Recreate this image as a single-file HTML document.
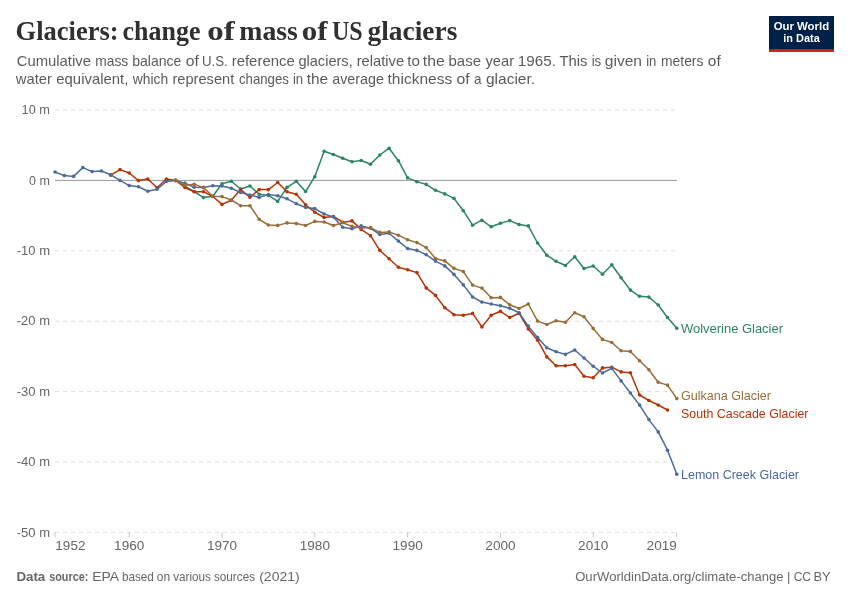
<!DOCTYPE html>
<html lang="en">
<head>
<meta charset="utf-8">
<title>Glaciers: change of mass of US glaciers</title>
<style>
html,body{margin:0;padding:0;background:#fff;}
body{width:850px;height:600px;overflow:hidden;}
svg{display:block;}
text{font-family:"Liberation Sans",sans-serif;}
.title{font-family:"Liberation Serif",serif;font-weight:bold;fill:#303030;}
.sub{fill:#5b5b5b;}
.ax{fill:#666666;}
.foot{fill:#676767;}
</style>
</head>
<body>
<svg width="850" height="600" viewBox="0 0 850 600">
<rect x="0" y="0" width="850" height="600" fill="#ffffff"/>
<text class="title" y="40.2" font-size="27.5"><tspan x="15.6" textLength="103" lengthAdjust="spacingAndGlyphs">Glaciers:</tspan> <tspan x="122.6" textLength="77.8" lengthAdjust="spacingAndGlyphs">change</tspan> <tspan x="207.3" textLength="27.4" lengthAdjust="spacingAndGlyphs">of</tspan> <tspan x="239.3" textLength="58.5" lengthAdjust="spacingAndGlyphs">mass</tspan> <tspan x="301.8" textLength="25.8" lengthAdjust="spacingAndGlyphs">of</tspan> <tspan x="331.9" textLength="30.7" lengthAdjust="spacingAndGlyphs">US</tspan> <tspan x="367.5" textLength="89.8" lengthAdjust="spacingAndGlyphs">glaciers</tspan> </text>
<text class="sub" y="66" font-size="14.6"><tspan x="16.7" textLength="74.3" lengthAdjust="spacingAndGlyphs">Cumulative</tspan> <tspan x="95.2" textLength="33.1" lengthAdjust="spacingAndGlyphs">mass</tspan> <tspan x="132.2" textLength="49.1" lengthAdjust="spacingAndGlyphs">balance</tspan> <tspan x="185.8" textLength="13.1" lengthAdjust="spacingAndGlyphs">of</tspan> <tspan x="201.9" textLength="25.8" lengthAdjust="spacingAndGlyphs">U.S.</tspan> <tspan x="231.7" textLength="63.1" lengthAdjust="spacingAndGlyphs">reference</tspan> <tspan x="298.4" textLength="54.3" lengthAdjust="spacingAndGlyphs">glaciers,</tspan> <tspan x="356.7" textLength="47.5" lengthAdjust="spacingAndGlyphs">relative</tspan> <tspan x="407.2" textLength="12.6" lengthAdjust="spacingAndGlyphs">to</tspan> <tspan x="422.8" textLength="21.9" lengthAdjust="spacingAndGlyphs">the</tspan> <tspan x="448.5" textLength="32.5" lengthAdjust="spacingAndGlyphs">base</tspan> <tspan x="485.4" textLength="28.7" lengthAdjust="spacingAndGlyphs">year</tspan> <tspan x="517.8" textLength="38.2" lengthAdjust="spacingAndGlyphs">1965.</tspan> <tspan x="559.4" textLength="28.0" lengthAdjust="spacingAndGlyphs">This</tspan> <tspan x="591.7" textLength="9.5" lengthAdjust="spacingAndGlyphs">is</tspan> <tspan x="604.8" textLength="37.2" lengthAdjust="spacingAndGlyphs">given</tspan> <tspan x="646.2" textLength="10.2" lengthAdjust="spacingAndGlyphs">in</tspan> <tspan x="661.1" textLength="42.3" lengthAdjust="spacingAndGlyphs">meters</tspan> <tspan x="707.8" textLength="12.9" lengthAdjust="spacingAndGlyphs">of</tspan></text>
<text class="sub" y="84" font-size="14.6"><tspan x="15.8" textLength="36.1" lengthAdjust="spacingAndGlyphs">water</tspan> <tspan x="56.3" textLength="72.0" lengthAdjust="spacingAndGlyphs">equivalent,</tspan> <tspan x="132.8" textLength="35.3" lengthAdjust="spacingAndGlyphs">which</tspan> <tspan x="172.5" textLength="61.7" lengthAdjust="spacingAndGlyphs">represent</tspan> <tspan x="239.0" textLength="49.9" lengthAdjust="spacingAndGlyphs">changes</tspan> <tspan x="292.9" textLength="10.2" lengthAdjust="spacingAndGlyphs">in</tspan> <tspan x="306.7" textLength="21.4" lengthAdjust="spacingAndGlyphs">the</tspan> <tspan x="332.2" textLength="51.7" lengthAdjust="spacingAndGlyphs">average</tspan> <tspan x="387.5" textLength="64.7" lengthAdjust="spacingAndGlyphs">thickness</tspan> <tspan x="456.5" textLength="13.2" lengthAdjust="spacingAndGlyphs">of</tspan> <tspan x="474.1" textLength="7.5" lengthAdjust="spacingAndGlyphs">a</tspan> <tspan x="486.0" textLength="49.1" lengthAdjust="spacingAndGlyphs">glacier.</tspan></text>
<g>
<rect x="769" y="16" width="65" height="36" fill="#002147"/>
<rect x="769" y="49.2" width="65" height="2.8" fill="#ce261e"/>
<text x="801.4" y="30.3" font-size="11.6" font-weight="bold" fill="#ffffff" text-anchor="middle" textLength="55.5" lengthAdjust="spacingAndGlyphs">Our World</text>
<text x="801.5" y="42.3" font-size="11.6" font-weight="bold" fill="#ffffff" text-anchor="middle" textLength="36.5" lengthAdjust="spacingAndGlyphs">in Data</text>
</g>
<g fill="none">
<line x1="55" y1="110.00" x2="677" y2="110.00" stroke="#dddddd" stroke-width="1" stroke-dasharray="4,4"/>
<line x1="55" y1="250.80" x2="677" y2="250.80" stroke="#dddddd" stroke-width="1" stroke-dasharray="4,4"/>
<line x1="55" y1="321.20" x2="677" y2="321.20" stroke="#dddddd" stroke-width="1" stroke-dasharray="4,4"/>
<line x1="55" y1="391.60" x2="677" y2="391.60" stroke="#dddddd" stroke-width="1" stroke-dasharray="4,4"/>
<line x1="55" y1="462.00" x2="677" y2="462.00" stroke="#dddddd" stroke-width="1" stroke-dasharray="4,4"/>
<line x1="55" y1="532.40" x2="677" y2="532.40" stroke="#dddddd" stroke-width="1" stroke-dasharray="4,4"/>
<line x1="55" y1="180.40" x2="677" y2="180.40" stroke="#999999" stroke-width="1"/>
<line x1="55.00" y1="532.40" x2="55.00" y2="537.40" stroke="#c4c4c4" stroke-width="1"/>
<line x1="129.24" y1="532.40" x2="129.24" y2="537.40" stroke="#c4c4c4" stroke-width="1"/>
<line x1="222.04" y1="532.40" x2="222.04" y2="537.40" stroke="#c4c4c4" stroke-width="1"/>
<line x1="314.84" y1="532.40" x2="314.84" y2="537.40" stroke="#c4c4c4" stroke-width="1"/>
<line x1="407.64" y1="532.40" x2="407.64" y2="537.40" stroke="#c4c4c4" stroke-width="1"/>
<line x1="500.44" y1="532.40" x2="500.44" y2="537.40" stroke="#c4c4c4" stroke-width="1"/>
<line x1="593.24" y1="532.40" x2="593.24" y2="537.40" stroke="#c4c4c4" stroke-width="1"/>
<line x1="676.76" y1="532.40" x2="676.76" y2="537.40" stroke="#c4c4c4" stroke-width="1"/>
</g>
<text class="ax" x="50" y="114.20" font-size="13" text-anchor="end" textLength="28.4" lengthAdjust="spacingAndGlyphs">10 m</text>
<text class="ax" x="50" y="184.60" font-size="13" text-anchor="end" textLength="20.9" lengthAdjust="spacingAndGlyphs">0 m</text>
<text class="ax" x="50" y="255.00" font-size="13" text-anchor="end" textLength="33.2" lengthAdjust="spacingAndGlyphs">-10 m</text>
<text class="ax" x="50" y="325.40" font-size="13" text-anchor="end" textLength="33.2" lengthAdjust="spacingAndGlyphs">-20 m</text>
<text class="ax" x="50" y="395.80" font-size="13" text-anchor="end" textLength="33.2" lengthAdjust="spacingAndGlyphs">-30 m</text>
<text class="ax" x="50" y="466.20" font-size="13" text-anchor="end" textLength="33.2" lengthAdjust="spacingAndGlyphs">-40 m</text>
<text class="ax" x="50" y="536.60" font-size="13" text-anchor="end" textLength="33.2" lengthAdjust="spacingAndGlyphs">-50 m</text>
<text class="ax" x="55.30" y="550.1" font-size="13" text-anchor="start" textLength="30.2" lengthAdjust="spacingAndGlyphs">1952</text>
<text class="ax" x="129.24" y="550.1" font-size="13" text-anchor="middle" textLength="30.2" lengthAdjust="spacingAndGlyphs">1960</text>
<text class="ax" x="222.04" y="550.1" font-size="13" text-anchor="middle" textLength="30.2" lengthAdjust="spacingAndGlyphs">1970</text>
<text class="ax" x="314.84" y="550.1" font-size="13" text-anchor="middle" textLength="30.2" lengthAdjust="spacingAndGlyphs">1980</text>
<text class="ax" x="407.64" y="550.1" font-size="13" text-anchor="middle" textLength="30.2" lengthAdjust="spacingAndGlyphs">1990</text>
<text class="ax" x="500.44" y="550.1" font-size="13" text-anchor="middle" textLength="30.2" lengthAdjust="spacingAndGlyphs">2000</text>
<text class="ax" x="593.24" y="550.1" font-size="13" text-anchor="middle" textLength="30.2" lengthAdjust="spacingAndGlyphs">2010</text>
<text class="ax" x="676.80" y="550.1" font-size="13" text-anchor="end" textLength="30.2" lengthAdjust="spacingAndGlyphs">2019</text>
<g>
<polyline points="175.6,180.4 184.9,186.3 194.2,191.5 203.5,197.6 212.8,196.3 222.0,183.8 231.3,181.2 240.6,189.0 249.9,186.0 259.2,194.3 268.4,195.4 277.7,201.4 287.0,187.4 296.3,181.3 305.6,191.5 314.8,176.7 324.1,151.3 333.4,154.5 342.7,158.3 352.0,161.7 361.2,160.5 370.5,164.2 379.8,155.0 389.1,148.2 398.4,160.7 407.6,177.9 416.9,181.7 426.2,184.4 435.5,190.3 444.8,193.9 454.0,198.4 463.3,210.7 472.6,225.2 481.9,220.2 491.2,226.8 500.4,223.3 509.7,220.6 519.0,224.5 528.3,225.9 537.6,243.0 546.8,255.2 556.1,261.3 565.4,265.5 574.7,256.8 584.0,268.5 593.2,266.0 602.5,274.2 611.8,264.8 621.1,277.7 630.4,290.1 639.6,296.3 648.9,297.1 658.2,305.0 667.5,317.5 676.8,328.3" fill="none" stroke="#2C8465" stroke-width="1.5" stroke-linejoin="round" stroke-linecap="round"/>
<g fill="#2C8465"><circle cx="175.6" cy="180.4" r="1.8"/><circle cx="184.9" cy="186.3" r="1.8"/><circle cx="194.2" cy="191.5" r="1.8"/><circle cx="203.5" cy="197.6" r="1.8"/><circle cx="212.8" cy="196.3" r="1.8"/><circle cx="222.0" cy="183.8" r="1.8"/><circle cx="231.3" cy="181.2" r="1.8"/><circle cx="240.6" cy="189.0" r="1.8"/><circle cx="249.9" cy="186.0" r="1.8"/><circle cx="259.2" cy="194.3" r="1.8"/><circle cx="268.4" cy="195.4" r="1.8"/><circle cx="277.7" cy="201.4" r="1.8"/><circle cx="287.0" cy="187.4" r="1.8"/><circle cx="296.3" cy="181.3" r="1.8"/><circle cx="305.6" cy="191.5" r="1.8"/><circle cx="314.8" cy="176.7" r="1.8"/><circle cx="324.1" cy="151.3" r="1.8"/><circle cx="333.4" cy="154.5" r="1.8"/><circle cx="342.7" cy="158.3" r="1.8"/><circle cx="352.0" cy="161.7" r="1.8"/><circle cx="361.2" cy="160.5" r="1.8"/><circle cx="370.5" cy="164.2" r="1.8"/><circle cx="379.8" cy="155.0" r="1.8"/><circle cx="389.1" cy="148.2" r="1.8"/><circle cx="398.4" cy="160.7" r="1.8"/><circle cx="407.6" cy="177.9" r="1.8"/><circle cx="416.9" cy="181.7" r="1.8"/><circle cx="426.2" cy="184.4" r="1.8"/><circle cx="435.5" cy="190.3" r="1.8"/><circle cx="444.8" cy="193.9" r="1.8"/><circle cx="454.0" cy="198.4" r="1.8"/><circle cx="463.3" cy="210.7" r="1.8"/><circle cx="472.6" cy="225.2" r="1.8"/><circle cx="481.9" cy="220.2" r="1.8"/><circle cx="491.2" cy="226.8" r="1.8"/><circle cx="500.4" cy="223.3" r="1.8"/><circle cx="509.7" cy="220.6" r="1.8"/><circle cx="519.0" cy="224.5" r="1.8"/><circle cx="528.3" cy="225.9" r="1.8"/><circle cx="537.6" cy="243.0" r="1.8"/><circle cx="546.8" cy="255.2" r="1.8"/><circle cx="556.1" cy="261.3" r="1.8"/><circle cx="565.4" cy="265.5" r="1.8"/><circle cx="574.7" cy="256.8" r="1.8"/><circle cx="584.0" cy="268.5" r="1.8"/><circle cx="593.2" cy="266.0" r="1.8"/><circle cx="602.5" cy="274.2" r="1.8"/><circle cx="611.8" cy="264.8" r="1.8"/><circle cx="621.1" cy="277.7" r="1.8"/><circle cx="630.4" cy="290.1" r="1.8"/><circle cx="639.6" cy="296.3" r="1.8"/><circle cx="648.9" cy="297.1" r="1.8"/><circle cx="658.2" cy="305.0" r="1.8"/><circle cx="667.5" cy="317.5" r="1.8"/><circle cx="676.8" cy="328.3" r="1.8"/></g>
</g>
<g>
<polyline points="110.7,175.2 120.0,169.6 129.2,173.0 138.5,180.6 147.8,179.0 157.1,187.7 166.4,179.0 175.6,180.4 184.9,187.5 194.2,191.7 203.5,191.7 212.8,196.5 222.0,204.4 231.3,200.3 240.6,189.6 249.9,197.2 259.2,189.6 268.4,189.6 277.7,182.5 287.0,191.7 296.3,194.3 305.6,204.8 314.8,212.2 324.1,217.5 333.4,216.5 342.7,222.2 352.0,220.9 361.2,229.4 370.5,235.7 379.8,250.3 389.1,258.8 398.4,267.2 407.6,269.7 416.9,272.6 426.2,287.9 435.5,295.4 444.8,307.7 454.0,314.7 463.3,315.2 472.6,313.4 481.9,326.9 491.2,315.2 500.4,311.3 509.7,317.5 519.0,313.2 528.3,328.9 537.6,340.2 546.8,356.9 556.1,365.8 565.4,365.8 574.7,364.5 584.0,376.2 593.2,377.7 602.5,367.9 611.8,367.2 621.1,371.9 630.4,372.7 639.6,395.0 648.9,400.5 658.2,405.0 667.5,410.0" fill="none" stroke="#B13507" stroke-width="1.5" stroke-linejoin="round" stroke-linecap="round"/>
<g fill="#B13507"><circle cx="110.7" cy="175.2" r="1.8"/><circle cx="120.0" cy="169.6" r="1.8"/><circle cx="129.2" cy="173.0" r="1.8"/><circle cx="138.5" cy="180.6" r="1.8"/><circle cx="147.8" cy="179.0" r="1.8"/><circle cx="157.1" cy="187.7" r="1.8"/><circle cx="166.4" cy="179.0" r="1.8"/><circle cx="175.6" cy="180.4" r="1.8"/><circle cx="184.9" cy="187.5" r="1.8"/><circle cx="194.2" cy="191.7" r="1.8"/><circle cx="203.5" cy="191.7" r="1.8"/><circle cx="212.8" cy="196.5" r="1.8"/><circle cx="222.0" cy="204.4" r="1.8"/><circle cx="231.3" cy="200.3" r="1.8"/><circle cx="240.6" cy="189.6" r="1.8"/><circle cx="249.9" cy="197.2" r="1.8"/><circle cx="259.2" cy="189.6" r="1.8"/><circle cx="268.4" cy="189.6" r="1.8"/><circle cx="277.7" cy="182.5" r="1.8"/><circle cx="287.0" cy="191.7" r="1.8"/><circle cx="296.3" cy="194.3" r="1.8"/><circle cx="305.6" cy="204.8" r="1.8"/><circle cx="314.8" cy="212.2" r="1.8"/><circle cx="324.1" cy="217.5" r="1.8"/><circle cx="333.4" cy="216.5" r="1.8"/><circle cx="342.7" cy="222.2" r="1.8"/><circle cx="352.0" cy="220.9" r="1.8"/><circle cx="361.2" cy="229.4" r="1.8"/><circle cx="370.5" cy="235.7" r="1.8"/><circle cx="379.8" cy="250.3" r="1.8"/><circle cx="389.1" cy="258.8" r="1.8"/><circle cx="398.4" cy="267.2" r="1.8"/><circle cx="407.6" cy="269.7" r="1.8"/><circle cx="416.9" cy="272.6" r="1.8"/><circle cx="426.2" cy="287.9" r="1.8"/><circle cx="435.5" cy="295.4" r="1.8"/><circle cx="444.8" cy="307.7" r="1.8"/><circle cx="454.0" cy="314.7" r="1.8"/><circle cx="463.3" cy="315.2" r="1.8"/><circle cx="472.6" cy="313.4" r="1.8"/><circle cx="481.9" cy="326.9" r="1.8"/><circle cx="491.2" cy="315.2" r="1.8"/><circle cx="500.4" cy="311.3" r="1.8"/><circle cx="509.7" cy="317.5" r="1.8"/><circle cx="519.0" cy="313.2" r="1.8"/><circle cx="528.3" cy="328.9" r="1.8"/><circle cx="537.6" cy="340.2" r="1.8"/><circle cx="546.8" cy="356.9" r="1.8"/><circle cx="556.1" cy="365.8" r="1.8"/><circle cx="565.4" cy="365.8" r="1.8"/><circle cx="574.7" cy="364.5" r="1.8"/><circle cx="584.0" cy="376.2" r="1.8"/><circle cx="593.2" cy="377.7" r="1.8"/><circle cx="602.5" cy="367.9" r="1.8"/><circle cx="611.8" cy="367.2" r="1.8"/><circle cx="621.1" cy="371.9" r="1.8"/><circle cx="630.4" cy="372.7" r="1.8"/><circle cx="639.6" cy="395.0" r="1.8"/><circle cx="648.9" cy="400.5" r="1.8"/><circle cx="658.2" cy="405.0" r="1.8"/><circle cx="667.5" cy="410.0" r="1.8"/></g>
</g>
<g>
<polyline points="55.0,172.0 64.3,175.6 73.6,176.4 82.8,167.6 92.1,171.6 101.4,171.0 110.7,174.8 120.0,180.4 129.2,185.6 138.5,186.8 147.8,191.2 157.1,189.2 166.4,181.5 175.6,180.4 184.9,183.1 194.2,187.2 203.5,187.4 212.8,185.7 222.0,186.0 231.3,188.3 240.6,192.4 249.9,195.0 259.2,197.4 268.4,194.6 277.7,195.8 287.0,198.8 296.3,203.7 305.6,207.5 314.8,208.6 324.1,214.0 333.4,216.9 342.7,227.2 352.0,228.7 361.2,225.9 370.5,228.3 379.8,234.4 389.1,233.3 398.4,241.1 407.6,248.5 416.9,250.4 426.2,254.7 435.5,261.1 444.8,265.9 454.0,274.4 463.3,284.9 472.6,297.0 481.9,302.1 491.2,304.0 500.4,305.7 509.7,308.2 519.0,312.7 528.3,326.1 537.6,337.5 546.8,347.7 556.1,351.8 565.4,354.4 574.7,350.0 584.0,358.0 593.2,366.2 602.5,373.0 611.8,368.4 621.1,380.9 630.4,393.0 639.6,405.1 648.9,419.6 658.2,431.9 667.5,450.2 676.8,474.2" fill="none" stroke="#4C6A9C" stroke-width="1.5" stroke-linejoin="round" stroke-linecap="round"/>
<g fill="#4C6A9C"><circle cx="55.0" cy="172.0" r="1.8"/><circle cx="64.3" cy="175.6" r="1.8"/><circle cx="73.6" cy="176.4" r="1.8"/><circle cx="82.8" cy="167.6" r="1.8"/><circle cx="92.1" cy="171.6" r="1.8"/><circle cx="101.4" cy="171.0" r="1.8"/><circle cx="110.7" cy="174.8" r="1.8"/><circle cx="120.0" cy="180.4" r="1.8"/><circle cx="129.2" cy="185.6" r="1.8"/><circle cx="138.5" cy="186.8" r="1.8"/><circle cx="147.8" cy="191.2" r="1.8"/><circle cx="157.1" cy="189.2" r="1.8"/><circle cx="166.4" cy="181.5" r="1.8"/><circle cx="175.6" cy="180.4" r="1.8"/><circle cx="184.9" cy="183.1" r="1.8"/><circle cx="194.2" cy="187.2" r="1.8"/><circle cx="203.5" cy="187.4" r="1.8"/><circle cx="212.8" cy="185.7" r="1.8"/><circle cx="222.0" cy="186.0" r="1.8"/><circle cx="231.3" cy="188.3" r="1.8"/><circle cx="240.6" cy="192.4" r="1.8"/><circle cx="249.9" cy="195.0" r="1.8"/><circle cx="259.2" cy="197.4" r="1.8"/><circle cx="268.4" cy="194.6" r="1.8"/><circle cx="277.7" cy="195.8" r="1.8"/><circle cx="287.0" cy="198.8" r="1.8"/><circle cx="296.3" cy="203.7" r="1.8"/><circle cx="305.6" cy="207.5" r="1.8"/><circle cx="314.8" cy="208.6" r="1.8"/><circle cx="324.1" cy="214.0" r="1.8"/><circle cx="333.4" cy="216.9" r="1.8"/><circle cx="342.7" cy="227.2" r="1.8"/><circle cx="352.0" cy="228.7" r="1.8"/><circle cx="361.2" cy="225.9" r="1.8"/><circle cx="370.5" cy="228.3" r="1.8"/><circle cx="379.8" cy="234.4" r="1.8"/><circle cx="389.1" cy="233.3" r="1.8"/><circle cx="398.4" cy="241.1" r="1.8"/><circle cx="407.6" cy="248.5" r="1.8"/><circle cx="416.9" cy="250.4" r="1.8"/><circle cx="426.2" cy="254.7" r="1.8"/><circle cx="435.5" cy="261.1" r="1.8"/><circle cx="444.8" cy="265.9" r="1.8"/><circle cx="454.0" cy="274.4" r="1.8"/><circle cx="463.3" cy="284.9" r="1.8"/><circle cx="472.6" cy="297.0" r="1.8"/><circle cx="481.9" cy="302.1" r="1.8"/><circle cx="491.2" cy="304.0" r="1.8"/><circle cx="500.4" cy="305.7" r="1.8"/><circle cx="509.7" cy="308.2" r="1.8"/><circle cx="519.0" cy="312.7" r="1.8"/><circle cx="528.3" cy="326.1" r="1.8"/><circle cx="537.6" cy="337.5" r="1.8"/><circle cx="546.8" cy="347.7" r="1.8"/><circle cx="556.1" cy="351.8" r="1.8"/><circle cx="565.4" cy="354.4" r="1.8"/><circle cx="574.7" cy="350.0" r="1.8"/><circle cx="584.0" cy="358.0" r="1.8"/><circle cx="593.2" cy="366.2" r="1.8"/><circle cx="602.5" cy="373.0" r="1.8"/><circle cx="611.8" cy="368.4" r="1.8"/><circle cx="621.1" cy="380.9" r="1.8"/><circle cx="630.4" cy="393.0" r="1.8"/><circle cx="639.6" cy="405.1" r="1.8"/><circle cx="648.9" cy="419.6" r="1.8"/><circle cx="658.2" cy="431.9" r="1.8"/><circle cx="667.5" cy="450.2" r="1.8"/><circle cx="676.8" cy="474.2" r="1.8"/></g>
</g>
<g>
<polyline points="175.6,180.4 184.9,185.3 194.2,184.2 203.5,187.6 212.8,196.3 222.0,196.6 231.3,200.0 240.6,205.7 249.9,205.7 259.2,219.3 268.4,225.0 277.7,225.4 287.0,222.9 296.3,223.6 305.6,225.5 314.8,221.4 324.1,222.0 333.4,225.5 342.7,222.7 352.0,226.4 361.2,228.1 370.5,227.6 379.8,232.4 389.1,231.9 398.4,235.2 407.6,239.8 416.9,242.6 426.2,247.6 435.5,258.5 444.8,260.9 454.0,268.3 463.3,271.6 472.6,285.1 481.9,288.1 491.2,297.8 500.4,297.4 509.7,304.7 519.0,308.5 528.3,304.0 537.6,321.1 546.8,324.5 556.1,320.8 565.4,322.3 574.7,312.8 584.0,316.7 593.2,328.4 602.5,339.4 611.8,342.5 621.1,350.8 630.4,351.4 639.6,360.8 648.9,369.7 658.2,382.3 667.5,385.1 676.8,398.6" fill="none" stroke="#996D39" stroke-width="1.5" stroke-linejoin="round" stroke-linecap="round"/>
<g fill="#996D39"><circle cx="175.6" cy="180.4" r="1.8"/><circle cx="184.9" cy="185.3" r="1.8"/><circle cx="194.2" cy="184.2" r="1.8"/><circle cx="203.5" cy="187.6" r="1.8"/><circle cx="212.8" cy="196.3" r="1.8"/><circle cx="222.0" cy="196.6" r="1.8"/><circle cx="231.3" cy="200.0" r="1.8"/><circle cx="240.6" cy="205.7" r="1.8"/><circle cx="249.9" cy="205.7" r="1.8"/><circle cx="259.2" cy="219.3" r="1.8"/><circle cx="268.4" cy="225.0" r="1.8"/><circle cx="277.7" cy="225.4" r="1.8"/><circle cx="287.0" cy="222.9" r="1.8"/><circle cx="296.3" cy="223.6" r="1.8"/><circle cx="305.6" cy="225.5" r="1.8"/><circle cx="314.8" cy="221.4" r="1.8"/><circle cx="324.1" cy="222.0" r="1.8"/><circle cx="333.4" cy="225.5" r="1.8"/><circle cx="342.7" cy="222.7" r="1.8"/><circle cx="352.0" cy="226.4" r="1.8"/><circle cx="361.2" cy="228.1" r="1.8"/><circle cx="370.5" cy="227.6" r="1.8"/><circle cx="379.8" cy="232.4" r="1.8"/><circle cx="389.1" cy="231.9" r="1.8"/><circle cx="398.4" cy="235.2" r="1.8"/><circle cx="407.6" cy="239.8" r="1.8"/><circle cx="416.9" cy="242.6" r="1.8"/><circle cx="426.2" cy="247.6" r="1.8"/><circle cx="435.5" cy="258.5" r="1.8"/><circle cx="444.8" cy="260.9" r="1.8"/><circle cx="454.0" cy="268.3" r="1.8"/><circle cx="463.3" cy="271.6" r="1.8"/><circle cx="472.6" cy="285.1" r="1.8"/><circle cx="481.9" cy="288.1" r="1.8"/><circle cx="491.2" cy="297.8" r="1.8"/><circle cx="500.4" cy="297.4" r="1.8"/><circle cx="509.7" cy="304.7" r="1.8"/><circle cx="519.0" cy="308.5" r="1.8"/><circle cx="528.3" cy="304.0" r="1.8"/><circle cx="537.6" cy="321.1" r="1.8"/><circle cx="546.8" cy="324.5" r="1.8"/><circle cx="556.1" cy="320.8" r="1.8"/><circle cx="565.4" cy="322.3" r="1.8"/><circle cx="574.7" cy="312.8" r="1.8"/><circle cx="584.0" cy="316.7" r="1.8"/><circle cx="593.2" cy="328.4" r="1.8"/><circle cx="602.5" cy="339.4" r="1.8"/><circle cx="611.8" cy="342.5" r="1.8"/><circle cx="621.1" cy="350.8" r="1.8"/><circle cx="630.4" cy="351.4" r="1.8"/><circle cx="639.6" cy="360.8" r="1.8"/><circle cx="648.9" cy="369.7" r="1.8"/><circle cx="658.2" cy="382.3" r="1.8"/><circle cx="667.5" cy="385.1" r="1.8"/><circle cx="676.8" cy="398.6" r="1.8"/></g>
</g>
<text x="681" y="332.6" font-size="13" fill="#2C8465" textLength="102" lengthAdjust="spacingAndGlyphs">Wolverine Glacier</text>
<text x="681" y="399.8" font-size="13" fill="#996D39" textLength="90" lengthAdjust="spacingAndGlyphs">Gulkana Glacier</text>
<text x="681" y="417.9" font-size="13" fill="#B13507" textLength="127.4" lengthAdjust="spacingAndGlyphs">South Cascade Glacier</text>
<text x="681" y="478.9" font-size="13" fill="#4C6A9C" textLength="118" lengthAdjust="spacingAndGlyphs">Lemon Creek Glacier</text>
<text class="foot" y="580.8" font-size="13"><tspan x="16.4" textLength="28.9" lengthAdjust="spacingAndGlyphs" font-weight="bold">Data</tspan> <tspan x="49.2" textLength="39.2" lengthAdjust="spacingAndGlyphs" font-weight="bold">source:</tspan> <tspan x="92.3" textLength="26.1" lengthAdjust="spacingAndGlyphs">EPA</tspan> <tspan x="121.9" textLength="31.9" lengthAdjust="spacingAndGlyphs">based</tspan> <tspan x="156.8" textLength="13.4" lengthAdjust="spacingAndGlyphs">on</tspan> <tspan x="173.2" textLength="37.7" lengthAdjust="spacingAndGlyphs">various</tspan> <tspan x="214.0" textLength="41.0" lengthAdjust="spacingAndGlyphs">sources</tspan> <tspan x="259.2" textLength="40.6" lengthAdjust="spacingAndGlyphs">(2021)</tspan></text>
<text class="foot" y="580.8" font-size="13"><tspan x="575.2" textLength="116.2" lengthAdjust="spacingAndGlyphs">OurWorldinData.org</tspan><tspan x="691.4" textLength="92.2" lengthAdjust="spacingAndGlyphs">/climate-change</tspan> <tspan x="787.1">|</tspan> <tspan x="793.7" textLength="17.3" lengthAdjust="spacingAndGlyphs">CC</tspan> <tspan x="813.4" textLength="17.2" lengthAdjust="spacingAndGlyphs">BY</tspan></text>
</svg>
</body>
</html>
